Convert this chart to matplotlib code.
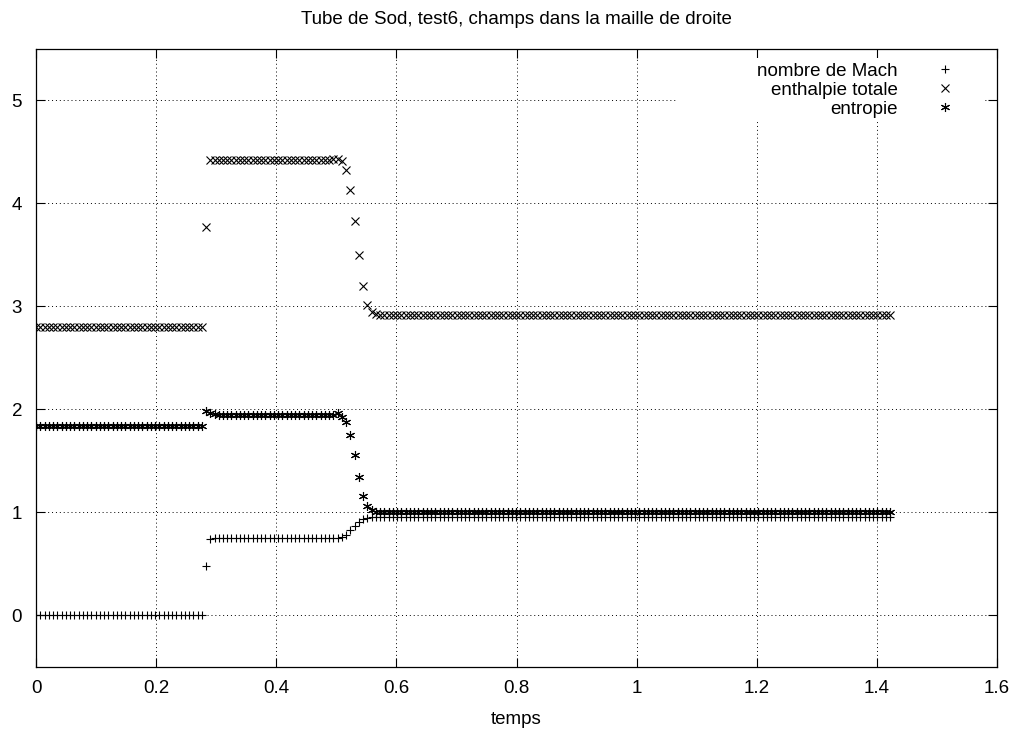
import numpy as np
import matplotlib
matplotlib.use("Agg")
import matplotlib.pyplot as plt
from matplotlib.patches import Rectangle
from matplotlib.ticker import FormatStrFormatter

plt.rcParams['font.family'] = ['Liberation Sans', 'DejaVu Sans']

temps = np.linspace(0.0, 1.422, 202)

# values: plateaus + the points across the two jumps
mach = ([0.0] * 40 + [0.48, 0.74] + [0.748] * 28 + [0.750, 0.752]
        + [0.754, 0.777, 0.825, 0.867, 0.906, 0.929, 0.945, 0.952, 0.955]
        + [0.955] * 121)
enthalpie = ([2.80] * 40 + [3.77, 4.42] + [4.42] * 28 + [4.43, 4.43]
             + [4.41, 4.32, 4.13, 3.83, 3.50, 3.19, 3.01, 2.94, 2.925]
             + [2.915] * 121)
entropie = ([1.835] * 40 + [1.98, 1.96] + [1.95] + [1.94] * 27 + [1.945, 1.958]
            + [1.925, 1.877, 1.748, 1.553, 1.343, 1.155, 1.058, 1.019, 1.005]
            + [1.0] * 121)

labels = ['nombre de Mach', 'enthalpie totale', 'entropie']
markers = ['+', 'x', (6, 2, 0)]
sizes = [5.5, 5.5, 6.5]

fig = plt.figure(figsize=(10.21, 7.33), dpi=100)
ax = fig.add_axes([0.0353, 0.0907, 0.9412, 0.8431])

for y, lab, mk, ms in zip([mach, enthalpie, entropie], labels, markers, sizes):
    ax.plot(temps, y, linestyle='none', marker=mk, color='black',
            markersize=ms, markeredgewidth=0.8, label=lab, zorder=3)

ax.set_xlim(0, 1.6)
ax.set_ylim(-0.5, 5.5)
ax.set_xticks(np.arange(0, 1.61, 0.2))
ax.set_yticks(range(0, 6))
ax.xaxis.set_major_formatter(FormatStrFormatter('%g'))
ax.tick_params(direction='in', length=6.5, width=0.8, top=True, right=True,
               labelsize=13.5, pad=10)
ax.set_axisbelow(True)
ax.grid(True, color='black', linestyle=(0, (1, 3)), linewidth=0.7)
for s in ax.spines.values():
    s.set_linewidth(0.9)

# white area under the key, like gnuplot
ax.add_patch(Rectangle((0.668, 0.881), 0.3195, 0.104, transform=ax.transAxes,
                       facecolor='white', edgecolor='none', zorder=1))

ax.set_title('Tube de Sod, test6, champs dans la maille de droite',
             fontsize=13.5, pad=18)
ax.set_xlabel('temps', fontsize=13.5, labelpad=9.5)

ax.legend(loc='upper right', bbox_to_anchor=(0.9555, 0.977), frameon=False,
          markerfirst=False, fontsize=13.5, handlelength=1.0,
          handletextpad=2.03, labelspacing=0.1, borderpad=0, borderaxespad=0,
          numpoints=1)

fig.savefig('out.png', dpi=100)
